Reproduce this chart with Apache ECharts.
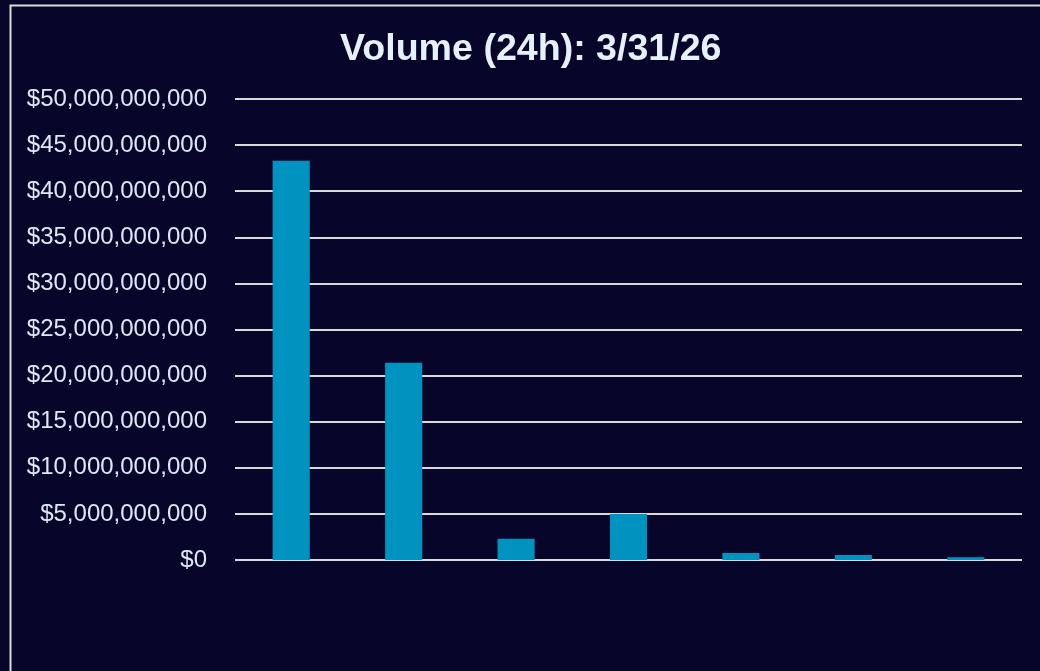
<!DOCTYPE html>
<html>
<head>
<meta charset="utf-8">
<title>Volume (24h)</title>
<script src="https://cdn.jsdelivr.net/npm/echarts@6/dist/echarts.min.js"></script>
<style>
  html, body { margin: 0; padding: 0; background: #07062a; }
  #chart { width: 1040px; height: 671px; }
</style>
</head>
<body>
<div id="chart"></div>
<script>
// ==============================================================
// data (x labels are not shown on the chart)
// ==============================================================
var categories = ['1', '2', '3', '4', '5', '6', '7'];
var volumes = [43300000000, 21400000000, 2300000000, 5000000000, 750000000, 550000000, 300000000];
var yTicks = [0, 5e9, 10e9, 15e9, 20e9, 25e9, 30e9, 35e9, 40e9, 45e9, 50e9];

var textColor = '#dde7f7';

function money(v) {
  return '$' + Math.round(v).toString().replace(/\B(?=(\d{3})+(?!\d))/g, ',');
}

var chart = echarts.init(document.getElementById('chart'));

var option = {
  backgroundColor: '#07062a',
  animation: false,
  title: {
    text: 'Volume (24h): 3/31/26',
    left: 335,
    top: 26,
    textStyle: {
      color: '#e6f1ff',
      fontFamily: 'Liberation Sans, Arial, sans-serif',
      fontSize: 37.6,
      fontWeight: 'bold'
    }
  },
  graphic: [{
    // light frame around the chart area
    type: 'rect',
    left: 8,
    top: 3,
    shape: { width: 1100, height: 760 },
    style: { fill: 'none', stroke: '#d9d9d9', lineWidth: 2 },
    silent: true
  }],
  grid: { left: 235, right: 18, top: 99, bottom: 111 },
  xAxis: {
    type: 'category',
    data: categories,
    axisLine: { show: false },
    axisTick: { show: false },
    axisLabel: { show: false }
  },
  yAxis: {
    type: 'value',
    min: yTicks[0],
    max: yTicks[yTicks.length - 1],
    interval: yTicks[1] - yTicks[0],
    axisLine: { show: false },
    axisTick: { show: false },
    splitLine: { lineStyle: { color: '#d9d9d9', width: 2 } },
    axisLabel: {
      color: textColor,
      fontFamily: 'Liberation Sans, Arial, sans-serif',
      fontSize: 24,
      margin: 28,
      formatter: money
    }
  },
  series: [{
    type: 'bar',
    data: volumes,
    barWidth: '33%',
    itemStyle: { color: '#0093bf' }
  }]
};

chart.setOption(option);
</script>
</body>
</html>
